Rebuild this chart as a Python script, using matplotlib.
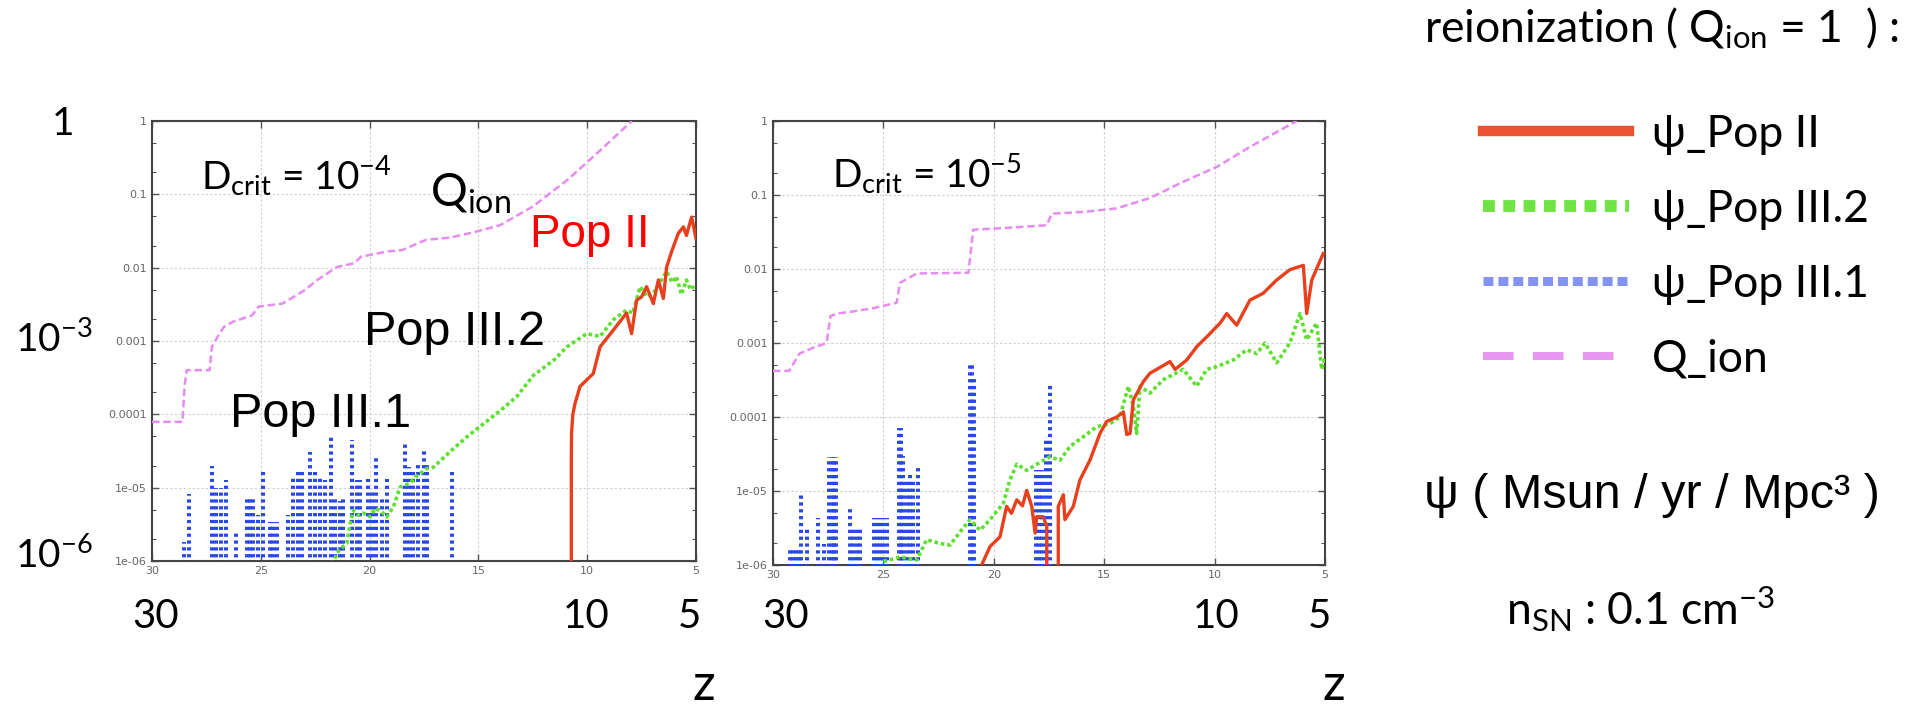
import matplotlib
matplotlib.use("Agg")
import matplotlib.pyplot as plt
from matplotlib.lines import Line2D
from matplotlib.ticker import FixedLocator, FixedFormatter, LogLocator, NullFormatter

# ---------------- data ----------------
# left panel: D_crit = 1e-4
z_qion_l = [30.0, 28.6, 28.5, 28.4, 27.35, 27.25, 26.9, 26.7, 26.3, 25.4, 25.1, 24.0,
            23.0, 22.4, 21.5, 20.7, 20.4, 19.2, 18.5, 17.4, 16.3, 15.1, 14.0, 12.5,
            10.9, 9.4, 7.95]
qion_l = [7.9e-5, 7.9e-5, 2.5e-4, 4.0e-4, 4.0e-4, 8.3e-4, 1.26e-3, 1.55e-3, 1.82e-3,
          2.24e-3, 2.95e-3, 3.24e-3, 4.9e-3, 6.8e-3, 1.02e-2, 1.15e-2, 1.41e-2, 1.66e-2,
          1.74e-2, 2.4e-2, 2.57e-2, 3.1e-2, 3.8e-2, 6.8e-2, 0.158, 0.398, 1.0]

z_pop2_l = [10.76, 10.73, 10.72, 10.66, 10.56, 10.33, 9.72, 9.41, 8.8, 8.4, 8.19, 7.96,
            7.73, 7.5, 7.27, 6.96, 6.73, 6.5, 6.35, 6.12, 5.81, 5.58, 5.44, 5.2, 5.0]
pop2_l = [0.0, 2.5e-5, 5.5e-5, 1.0e-4, 1.41e-4, 2.4e-4, 3.6e-4, 8.3e-4, 1.41e-3, 2.0e-3,
          2.4e-3, 1.26e-3, 3.6e-3, 4.0e-3, 5.5e-3, 3.24e-3, 6.8e-3, 3.8e-3, 1.02e-2,
          1.66e-2, 2.95e-2, 3.6e-2, 2.75e-2, 4.9e-2, 2.5e-2]

z_pop32_l = [21.74, 21.4, 21.05, 20.9, 20.75, 20.5, 20.29, 19.97, 19.75, 19.52, 19.21,
             18.9, 18.6, 18.13, 17.9, 17.68, 17.38, 17.07, 16.3, 15.54, 14.93, 14.0,
             13.24, 12.47, 11.5, 10.94, 10.02, 9.41, 8.8, 8.2, 7.9, 7.57, 7.25, 6.96,
             6.35, 6.1, 5.9, 5.67, 5.44, 5.25, 5.0]
pop32_l = [9e-7, 1.41e-6, 1.74e-6, 3.16e-6, 4.9e-6, 4.2e-6, 4.5e-6, 4.0e-6, 5.2e-6,
           4.9e-6, 4.0e-6, 5.5e-6, 1.02e-5, 1.15e-5, 1.41e-5, 1.55e-5, 1.82e-5, 1.9e-5,
           3.1e-5, 4.9e-5, 6.8e-5, 1.12e-4, 1.74e-4, 3.4e-4, 5.6e-4, 8.3e-4, 1.26e-3,
           1.15e-3, 1.95e-3, 2.63e-3, 2.4e-3, 5.5e-3, 4.0e-3, 4.5e-3, 8.9e-3, 6.3e-3,
           7.6e-3, 4.3e-3, 6.8e-3, 5.0e-3, 6.0e-3]

z_pop31_l = [28.52, 28.29, 27.23, 27.07, 26.84, 26.61, 26.15, 25.65, 25.5, 25.37, 25.11,
             24.88, 24.58, 24.43, 24.27, 23.74, 23.53, 23.3, 23.12, 22.74, 22.51, 22.28,
             22.05, 21.79, 21.59, 21.36, 21.21, 20.82, 20.6, 20.44, 20.06, 19.9, 19.71,
             19.44, 19.21, 18.37, 18.17, 17.99, 17.76, 17.5, 17.38, 16.23]
pop31_l = [1.8e-6, 8.3e-6, 2.0e-5, 1.0e-5, 1.0e-5, 1.26e-5, 2.4e-6, 7.0e-6, 7.0e-6,
           7.0e-6, 4.2e-6, 1.7e-5, 3.4e-6, 3.4e-6, 3.4e-6, 4.2e-6, 1.4e-5, 1.7e-5,
           1.7e-5, 3.1e-5, 1.8e-5, 1.4e-5, 1.26e-5, 5.2e-5, 7.4e-6, 6.5e-6, 7.4e-6,
           4.5e-5, 1.26e-5, 1.26e-5, 1.3e-5, 9.0e-6, 2.8e-5, 7.4e-6, 1.3e-5, 4.0e-5,
           1.9e-5, 1.7e-5, 2.1e-5, 3.4e-5, 2.1e-5, 1.8e-5]

# right panel: D_crit = 1e-5
z_qion_r = [30.0, 29.27, 28.8, 28.23, 27.57, 27.4, 27.1, 26.51, 25.46, 24.4, 24.25,
            23.49, 21.15, 20.93, 19.72, 17.6, 17.38, 15.95, 14.43, 12.93, 11.42, 9.9,
            8.4, 6.28]
qion_r = [4.2e-4, 4.2e-4, 7.2e-4, 8.5e-4, 1.0e-3, 2.3e-3, 2.5e-3, 2.63e-3, 2.95e-3,
          3.5e-3, 6.5e-3, 8.7e-3, 8.9e-3, 3.4e-2, 3.55e-2, 3.9e-2, 5.6e-2, 5.9e-2,
          6.6e-2, 9.1e-2, 0.151, 0.24, 0.447, 1.0]

z_pop2_r = [20.6, 20.55, 20.17, 19.72, 19.42, 19.2, 18.96, 18.7, 18.51, 18.28, 18.13,
            18.06, 17.76, 17.6, 17.49, 17.18, 17.08, 16.85, 16.78, 16.4, 16.1, 15.64,
            15.19, 14.89, 14.43, 14.13, 13.98, 13.83, 13.68, 13.23, 12.93, 12.02, 11.79,
            11.26, 10.81, 10.2, 9.75, 9.45, 9.0, 8.4, 7.8, 7.19, 6.59, 5.98, 5.83, 5.6,
            5.08]
pop2_r = [0.0, 1.0e-6, 1.78e-6, 2.4e-6, 6.2e-6, 5.0e-6, 7.6e-6, 6.3e-6, 1.02e-5, 6.2e-6,
          2.7e-6, 4.5e-6, 4.5e-6, 3.3e-6, 0.0, 0.0, 6.2e-6, 8.9e-6, 4.1e-6, 6.2e-6,
          1.41e-5, 2.63e-5, 6.0e-5, 8.7e-5, 1.0e-4, 1.17e-4, 5.8e-5, 6.0e-5, 1.7e-4,
          3.0e-4, 3.9e-4, 5.6e-4, 4.4e-4, 5.9e-4, 8.9e-4, 1.35e-3, 1.86e-3, 2.5e-3,
          1.74e-3, 3.8e-3, 4.7e-3, 7.1e-3, 9.8e-3, 1.12e-2, 2.5e-3, 7.1e-3, 1.62e-2]

z_pop32_r = [25.0, 24.6, 24.25, 23.49, 23.04, 22.44, 21.98, 21.53, 21.08, 20.62, 20.17,
             19.57, 19.27, 18.96, 18.51, 18.06, 17.45, 17.0, 16.55, 15.95, 15.34, 14.74,
             14.29, 13.91, 13.68, 13.53, 13.38, 12.93, 12.32, 11.42, 10.81, 10.36, 9.9,
             9.15, 8.55, 8.09, 7.72, 7.19, 6.59, 6.13, 5.83, 5.38, 5.15, 5.0]
pop32_r = [1.12e-6, 1.2e-6, 1.29e-6, 1.17e-6, 2.2e-6, 1.95e-6, 1.86e-6, 2.8e-6, 4.1e-6,
           2.95e-6, 4.1e-6, 6.8e-6, 1.41e-5, 2.3e-5, 1.9e-5, 2.3e-5, 2.9e-5, 2.6e-5,
           4.0e-5, 5.4e-5, 7.4e-5, 8.1e-5, 1.0e-4, 2.6e-4, 1.38e-4, 6.0e-5, 2.6e-4,
           2.1e-4, 3.2e-4, 4.4e-4, 2.6e-4, 4.4e-4, 4.8e-4, 5.9e-4, 8.1e-4, 7.2e-4,
           1.0e-3, 5.4e-4, 1.0e-3, 2.5e-3, 1.1e-3, 1.86e-3, 4.4e-4, 6.3e-4]

z_pop31_r = [29.25, 29.1, 28.95, 28.8, 28.75, 28.46, 27.95, 27.67, 27.45, 27.35, 27.25,
             27.15, 26.51, 26.36, 26.2, 26.05, 25.43, 25.3, 25.15, 25.0, 24.85, 24.3,
             24.2, 24.1, 23.95, 23.8, 23.65, 23.45, 21.1, 21.0, 20.9, 18.1, 17.95, 17.8,
             17.64, 17.45]
pop31_r = [1.7e-6, 1.7e-6, 1.7e-6, 1.7e-6, 8.9e-6, 3.3e-6, 4.3e-6, 1.9e-6, 2.9e-5,
           2.9e-5, 2.9e-5, 2.9e-5, 5.9e-6, 3.3e-6, 3.3e-6, 3.3e-6, 4.3e-6, 4.3e-6,
           4.3e-6, 4.3e-6, 4.3e-6, 7.0e-5, 7.0e-5, 3.0e-5, 1.4e-5, 1.7e-5, 1.4e-5,
           2.1e-5, 5.0e-4, 5.0e-4, 3.5e-4, 1.9e-5, 1.9e-5, 1.9e-5, 5.4e-5, 2.9e-4]

yticks = [1, 0.1, 0.01, 0.001, 1e-4, 1e-5, 1e-6]
ytick_labels = ["1", "0.1", "0.01", "0.001", "0.0001", "1e-05", "1e-06"]
xticks = [30, 25, 20, 15, 10, 5]

# ---------------- style ----------------
RED = "#e8401c"
GREEN = "#5fe030"
BLUE = "#2a48e6"
VIOLET = "#e68cf0"
CAL = ["Lato", "DejaVu Sans"]          # calibri-like annotation font
ARI = ["Liberation Sans", "DejaVu Sans"]

plt.rcParams["mathtext.fontset"] = "custom"
plt.rcParams["mathtext.rm"] = "Lato"
plt.rcParams["mathtext.it"] = "Lato:italic"
plt.rcParams["mathtext.bf"] = "Lato:bold"

fig = plt.figure(figsize=(19.3, 7.1), dpi=100)
ax_l = fig.add_axes([152 / 1930, 1 - 561 / 710, 544 / 1930, 440 / 710])
ax_r = fig.add_axes([773 / 1930, 1 - 565 / 710, 552 / 1930, 444 / 710])


def draw_panel(ax, zq, q, z2, p2, z32, p32, z31, p31):
    ax.set_yscale("log", nonpositive="clip")
    ax.vlines(z31, 1e-8, p31, colors=BLUE, linestyles=(0, (0.8, 0.9)), lw=2.9, zorder=3)
    ax.plot(z32, p32, color=GREEN, ls=(0, (1, 0.8)), lw=2.6, zorder=4)
    ax.plot(z2, p2, color=RED, ls="-", lw=2.4, zorder=5)
    ax.plot(zq, q, color=VIOLET, ls=(0, (3, 1.5)), lw=1.8, zorder=6)

    ax.set_xlim(30, 5)
    ax.set_ylim(1e-6, 1)
    ax.xaxis.set_major_locator(FixedLocator(xticks))
    ax.yaxis.set_major_locator(FixedLocator(yticks))
    ax.yaxis.set_major_formatter(FixedFormatter(ytick_labels))
    ax.yaxis.set_minor_locator(LogLocator(base=10, subs=(2, 5)))
    ax.yaxis.set_minor_formatter(NullFormatter())
    ax.tick_params(which="both", direction="in", top=True, right=True,
                   colors="#555555", labelsize=8)
    ax.tick_params(which="major", length=5, width=1)
    ax.tick_params(which="minor", length=3, width=0.8)
    ax.grid(True, which="major", ls=(0, (2, 2)), color="#cfcfcf", lw=0.8)
    for sp in ax.spines.values():
        sp.set_color("#444444")
        sp.set_linewidth(1.5)
    for lab in ax.get_xticklabels() + ax.get_yticklabels():
        lab.set_color("#666666")


draw_panel(ax_l, z_qion_l, qion_l, z_pop2_l, pop2_l, z_pop32_l, pop32_l, z_pop31_l, pop31_l)
draw_panel(ax_r, z_qion_r, qion_r, z_pop2_r, pop2_r, z_pop32_r, pop32_r, z_pop31_r, pop31_r)


def ftxt(px, py, s, size, fam=CAL, color="black"):
    fig.text(px / 1930, 1 - py / 710, s, fontsize=size, family=fam, color=color,
             ha="left", va="baseline")


# big hand-made axis labels
ftxt(52, 135, "1", 28)
ftxt(15, 352, "10$^{-3}$", 28)
ftxt(15, 568, "10$^{-6}$", 28)
for px, s in [(132, "30"), (563, "10"), (678, "5"), (762, "30"), (1193, "10"), (1308, "5")]:
    ftxt(px, 628, s, 29)
ftxt(693, 700, "z", 36)
ftxt(1323, 700, "z", 36)

# in-panel annotations
ftxt(201, 190, "D$_{\\mathrm{crit}}$ = 10$^{-4}$", 28)
ftxt(832, 188, "D$_{\\mathrm{crit}}$ = 10$^{-5}$", 28)
ftxt(430, 207, "Q$_{\\mathrm{ion}}$", 33)
ftxt(530, 247, "Pop II", 33, fam=ARI, color="#ff0000")
ftxt(364, 345, "Pop III.2", 35, fam=ARI)
ftxt(230, 427, "Pop III.1", 35, fam=ARI)

# right-hand notes and legend
ftxt(1424, 42, "reionization ( Q$_{\\mathrm{ion}}$ = 1  ) :", 32)
ftxt(1424, 508, "ψ ( Msun / yr / Mpc³ )", 35, fam=ARI)
ftxt(1506, 625, "n$_{\\mathrm{SN}}$ : 0.1 cm$^{-3}$", 32)

handles = [
    Line2D([], [], color=RED, lw=7.5, alpha=0.9),
    Line2D([], [], color=GREEN, lw=8.5, ls=(0, (1.0, 0.72)), alpha=0.9),
    Line2D([], [], color="#6c80f0", lw=6.5, ls=(0, (1.1, 0.55)), alpha=0.85),
    Line2D([], [], color=VIOLET, lw=5.8, ls=(0, (3.8, 2.4)), alpha=0.9),
]
labels = ["ψ_Pop II", "ψ_Pop III.2", "ψ_Pop III.1", "Q_ion"]
fig.legend(handles, labels, loc="upper left", bbox_to_anchor=(1483 / 1930, 1 - 114 / 710),
           frameon=False, prop={"family": CAL, "size": 32}, handlelength=3.29,
           handletextpad=0.52, labelspacing=0.76, borderpad=0, borderaxespad=0)

fig.savefig("out.png", dpi=100)
